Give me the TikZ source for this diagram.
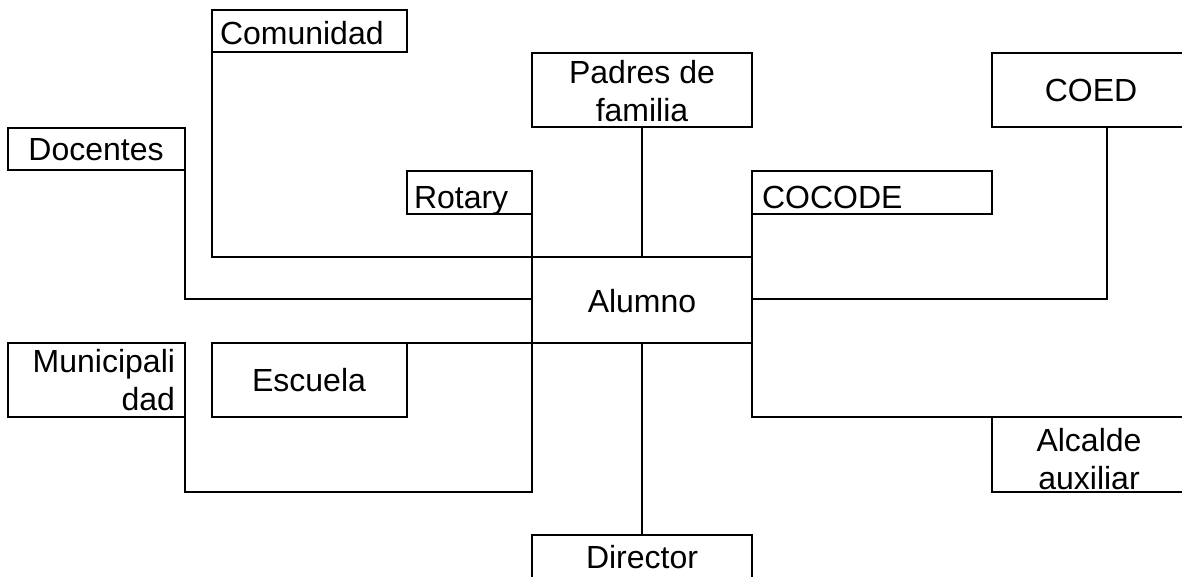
\documentclass[tikz,border=0pt]{standalone}
\usepackage{fontspec}
\setmainfont{Liberation Sans}
\tikzset{
  bx/.style={draw=black,line width=2pt,fill=white,inner sep=0pt,outer sep=0pt,font=\fontsize{32}{38}\selectfont,align=center,rectangle},
  tx/.style={font=\fontsize{32}{38}\selectfont,inner sep=0pt,outer sep=0pt},
  ln/.style={draw=black,line width=2pt,line cap=rect}
}
\begin{document}
\begin{tikzpicture}[x=1pt,y=-1pt]
\useasboundingbox (0,0) rectangle (1182,576);
\fill[white] (0,0) rectangle (1182,576);
\coordinate (c1) at (212,257);
\coordinate (c2) at (185,299);
\coordinate (c3) at (185,492);
\coordinate (c4) at (752,417);
\coordinate (c5) at (1107,299);
% boxes
\node[bx,minimum width=195pt,minimum height=42pt] (com) at (309.5,31) {};
\node[tx,anchor=base west] (comt) at (220,44) {Comunidad};
\node[bx,minimum width=220pt,minimum height=74pt] (pad) at (642,90) {};
\node[tx,align=center] (padt) at (642,91) {Padres de\\familia};
\node[bx,minimum width=194pt,minimum height=74pt] (coed) at (1089,90) {};
\node[tx] (coedt) at (1091,90) {COED};
\node[bx,minimum width=177pt,minimum height=42pt] (doc) at (96.5,149) {};
\node[tx] (doct) at (96,150) {Docentes};
\node[bx,minimum width=125pt,minimum height=43pt] (rot) at (469.5,192.5) {};
\node[tx,anchor=base west] (rott) at (414,208) {Rotary};
\node[bx,minimum width=240pt,minimum height=43pt] (coc) at (872,192.5) {};
\node[tx,anchor=base west] (coct) at (762,208) {COCODE};
\node[bx,minimum width=220pt,minimum height=86pt] (alu) at (642,300) {};
\node[tx] (alut) at (642,301) {Alumno};
\node[bx,minimum width=177pt,minimum height=74pt] (mun) at (96.5,380) {};
\node[tx,align=right,anchor=east] (munt) at (175,380) {Municipali\\dad};
\node[bx,minimum width=195pt,minimum height=74pt] (esc) at (309.5,380) {};
\node[tx] (esct) at (309,380) {Escuela};
\node[bx,minimum width=194pt,minimum height=75pt] (alc) at (1089,454.5) {};
\node[tx,align=center] (alct) at (1089,459) {Alcalde\\auxiliar};
\node[bx,minimum width=220pt,minimum height=46pt] (dir) at (642,558) {};
\node[tx] (dirt) at (642,557) {Director};
% connectors
\draw[ln] (com.south west) -- (c1) -- (alu.north west);
\draw[ln] (doc.south east) -- (c2) -- (c2 -| alu.west);
\draw[ln] (rot.south east) -- (alu.north west);
\draw[ln] (pad.south) -- (alu.north);
\draw[ln] (coc.south west) -- (alu.north east);
\draw[ln] (coed.south -| c5) -- (c5) -- (c5 -| alu.east);
\draw[ln] (esc.north east) -- (alu.south west);
\draw[ln] (mun.south east) -- (c3) -- (c3 -| alu.south west) -- (alu.south west);
\draw[ln] (alu.south east) -- (c4) -- (alc.north west);
\draw[ln] (alu.south) -- (dir.north);
\end{tikzpicture}
\end{document}
